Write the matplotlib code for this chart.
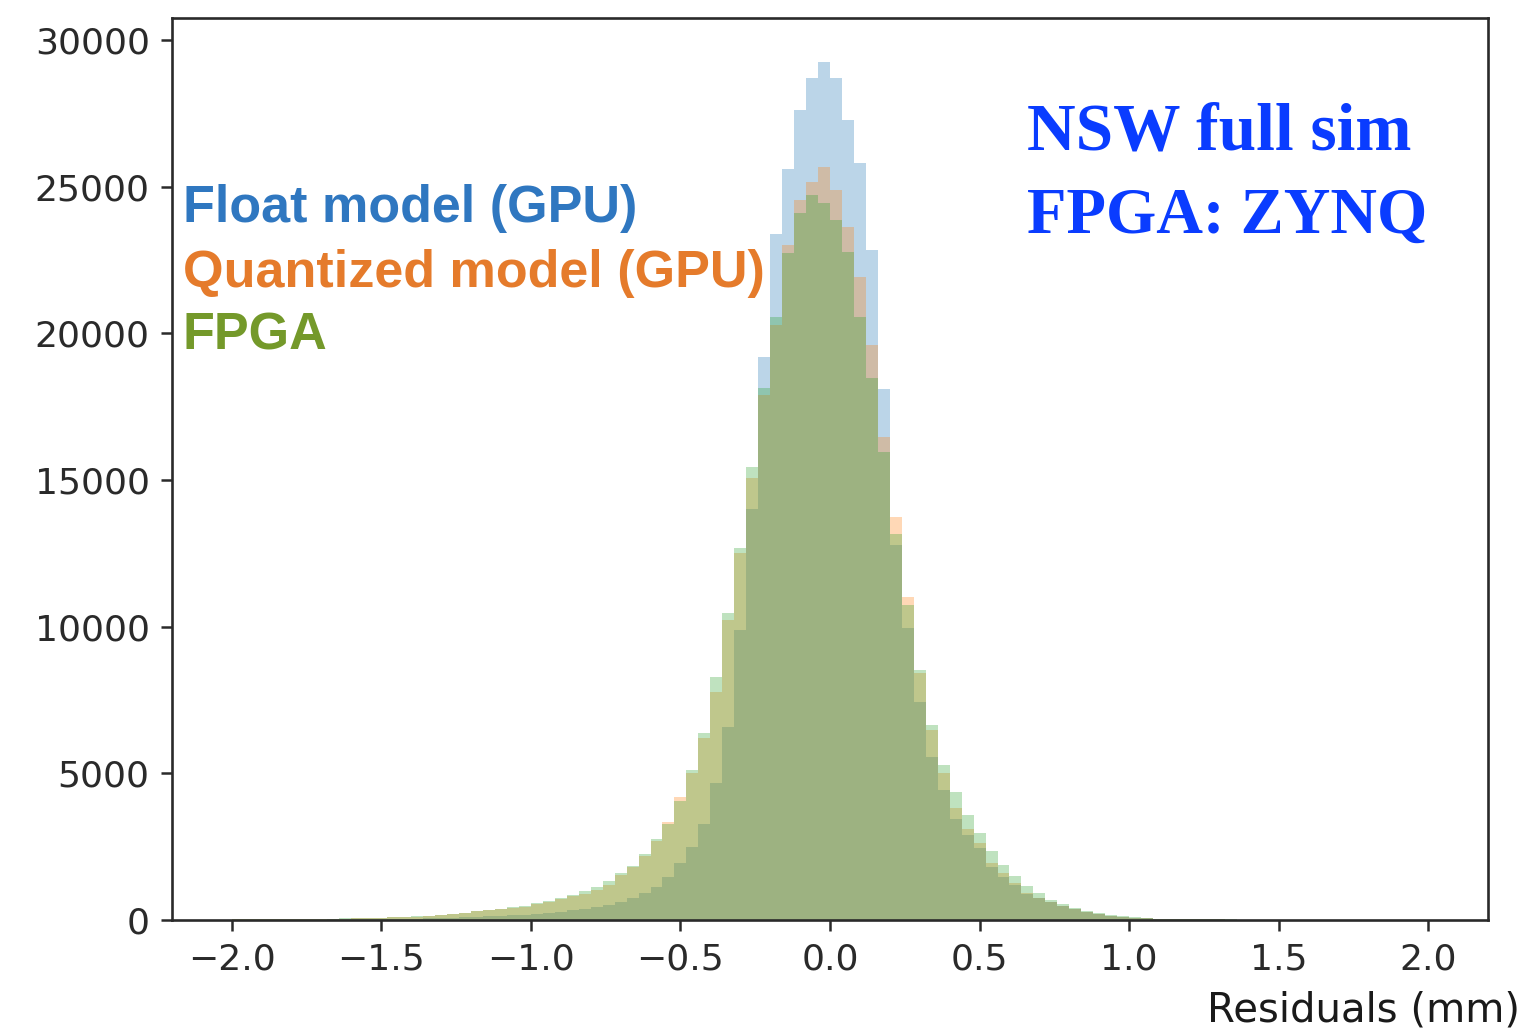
import numpy as np
import matplotlib
matplotlib.use("Agg")
import matplotlib.pyplot as plt

# bin counts, 100 bins from -2 to 2 mm
bin_lo, bin_hi, n_bins = -2.0, 2.0, 100

float_gpu = [
    7, 8, 9, 10, 12, 12, 14, 16, 18, 20, 23, 27, 30, 34, 40, 46, 55,
    65, 75, 90, 110, 125, 140, 160, 180, 210, 245, 285, 330,
    380, 440, 510, 625, 740, 910, 1140, 1480, 1930, 2500, 3290, 4660, 6590,
    9900, 14000, 19200, 23400, 25600, 27600, 28700, 29250, 28700, 27270, 25800, 22840, 18100, 12800, 9940,
    7440, 5570, 4430, 3460, 2900, 2440, 1820, 1480, 1190, 900, 740, 600, 470, 360, 270, 195, 145, 105, 78,
    54, 44, 37, 31, 26, 22, 19, 16, 14, 12, 10, 9, 8, 7, 7, 6, 6, 5, 5, 4, 4, 4, 4, 4,
]
quant_gpu = [
    18, 22, 23, 27, 32, 33, 37, 42, 46, 51, 60, 70, 80, 90, 103, 118, 137,
    160, 190, 235, 295, 325, 360, 410, 460, 545, 625, 730, 820,
    900, 1040, 1200, 1520, 1800, 2180, 2700, 3330, 4200, 5020, 6220, 7780, 10230,
    12510, 15070, 17900, 20300, 23010, 24550, 25160, 25670, 24890, 23630, 21920, 19600, 16470, 13740, 11010,
    8410, 6480, 5000, 3810, 3120, 2610, 1930, 1590, 1250, 930, 760, 620, 480, 370, 280, 200, 150, 110, 80,
    55, 45, 38, 32, 27, 23, 20, 17, 14, 12, 11, 10, 9, 8, 7, 7, 6, 6, 5, 5, 4, 4, 4, 4,
]
fpga = [
    20, 25, 25, 30, 35, 35, 40, 45, 50, 55, 65, 75, 85, 95, 110, 125, 145,
    170, 200, 250, 310, 340, 375, 430, 480, 570, 650, 760, 850,
    980, 1110, 1330, 1610, 1840, 2240, 2770, 3270, 4060, 5120, 6370, 8280, 10470,
    12680, 15450, 18140, 20560, 22740, 24100, 24720, 24450, 23870, 22780, 20560, 18480, 15960, 13160, 10740,
    8520, 6650, 5280, 4370, 3580, 2980, 2360, 1890, 1490, 1150, 920, 690, 550, 420, 320, 230, 170, 125, 90,
    60, 50, 42, 36, 30, 26, 22, 19, 16, 14, 12, 11, 10, 9, 8, 8, 7, 7, 6, 6, 5, 5, 5, 5,
]

series_labels = ["Float model (GPU)", "Quantized model (GPU)", "FPGA"]
label_colors = ["#2f77c0", "#e57b2b", "#74992a"]

edges = np.linspace(bin_lo, bin_hi, n_bins + 1)

fig = plt.figure(figsize=(15.27, 10.32), dpi=100)
ax = fig.add_axes([0.1126, 0.1085, 0.8619, 0.8741])

# same way plt.hist would draw them: default colour cycle, alpha 0.3
for counts in (float_gpu, quant_gpu, fpga):
    ax.hist(edges[:-1], bins=edges, weights=counts, alpha=0.3)

ax.set_xlim(-2.2, 2.2)
ax.set_ylim(0, 30750)
ax.set_yticks([0, 5000, 10000, 15000, 20000, 25000, 30000])
ax.set_xticks([-2.0, -1.5, -1.0, -0.5, 0.0, 0.5, 1.0, 1.5, 2.0])

for sp in ax.spines.values():
    sp.set_linewidth(1.9)
    sp.set_color("#2a2a2a")
ax.tick_params(labelsize=26, length=8, width=1.8, pad=8, colors="#2a2a2a")

ax.text(1.0243, -0.113, "Residuals (mm)", transform=ax.transAxes,
        ha="right", va="baseline", fontsize=29, color="#1a1a1a")

# legend written as coloured text
for lab, col, yb in zip(series_labels, label_colors, [0.7738, 0.7018, 0.632]):
    ax.text(0.0084, yb, lab, transform=ax.transAxes, ha="left", va="baseline",
            fontsize=37.5, fontweight="bold", color=col, family="Liberation Sans")

ax.text(0.650, 0.8537, "NSW full sim", transform=ax.transAxes, ha="left", va="baseline",
        fontsize=48.5, fontweight="bold", color="#0a3cff", family="Liberation Serif")
ax.text(0.650, 0.7616, "FPGA: ZYNQ", transform=ax.transAxes, ha="left", va="baseline",
        fontsize=46.5, fontweight="bold", color="#0a3cff", family="Liberation Serif")

fig.savefig("out.png", dpi=100)
